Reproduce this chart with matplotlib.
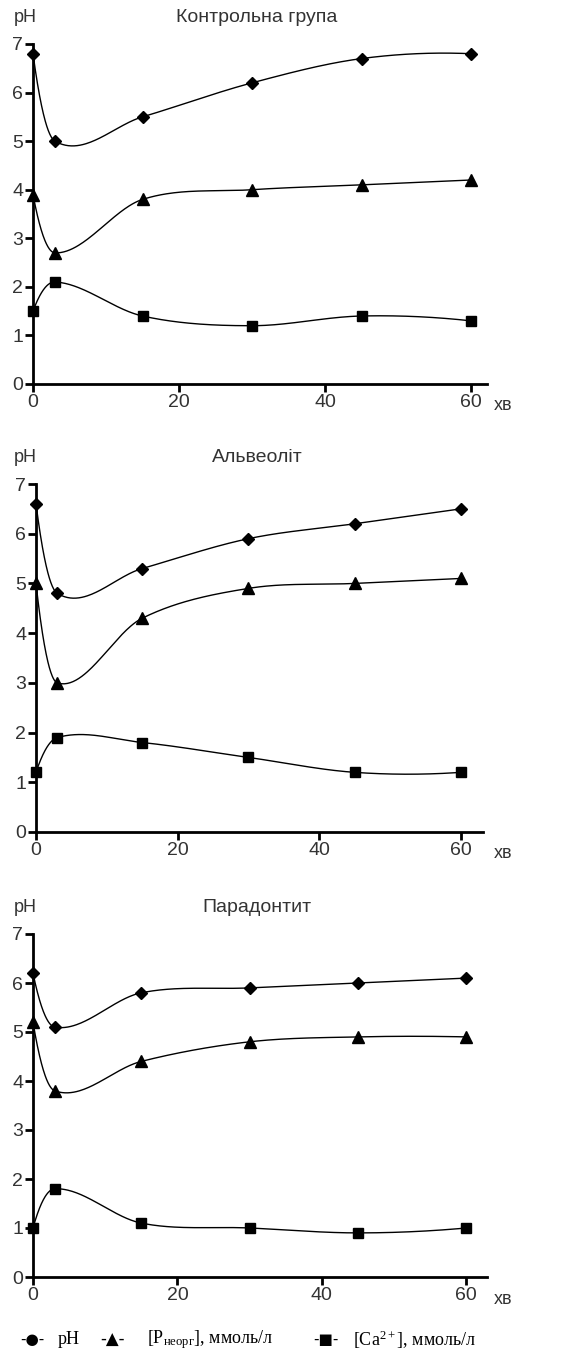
import numpy as np
import matplotlib
matplotlib.use("Agg")
import matplotlib.pyplot as plt

# час, хв
minutes = [0, 3, 15, 30, 45, 60]
xticks = [0, 20, 40, 60]

titles = ["Контрольна група", "Альвеоліт", "Парадонтит"]

ph_vals = [
    [6.8, 5.0, 5.5, 6.2, 6.7, 6.8],
    [6.6, 4.8, 5.3, 5.9, 6.2, 6.5],
    [6.2, 5.1, 5.8, 5.9, 6.0, 6.1],
]
p_vals = [
    [3.9, 2.7, 3.8, 4.0, 4.1, 4.2],
    [5.0, 3.0, 4.3, 4.9, 5.0, 5.1],
    [5.2, 3.8, 4.4, 4.8, 4.9, 4.9],
]
ca_vals = [
    [1.5, 2.1, 1.4, 1.2, 1.4, 1.3],
    [1.2, 1.9, 1.8, 1.5, 1.2, 1.2],
    [1.0, 1.8, 1.1, 1.0, 0.9, 1.0],
]

plt.rcParams['font.family'] = ['Liberation Sans', 'DejaVu Sans']
plt.rcParams['mathtext.fontset'] = 'custom'
plt.rcParams['mathtext.rm'] = 'Liberation Serif'
plt.rcParams['mathtext.it'] = 'Liberation Serif:italic'

W, H = 571, 1355
fig = plt.figure(figsize=(W / 100, H / 100), dpi=100)

# положення панелей у пікселях: лівий край, px на хв, кінець осі x, верх (y=7), низ (y=0)
panels = [
    (33, 7.30, 487, 44, 384),
    (36, 7.08, 483, 484, 832),
    (33, 7.22, 487, 934, 1277),
]


def smooth(x, y, n=60):
    # кубічний ермітів сплайн через точки
    x = np.asarray(x, float)
    y = np.asarray(y, float)
    d = np.diff(y) / np.diff(x)
    m = np.zeros_like(y)
    m[1:-1] = (y[2:] - y[:-2]) / (x[2:] - x[:-2])
    m[0] = 2 * d[0] - m[1]
    m[-1] = 2 * d[-1] - m[-2]
    xs, ys = [], []
    for i in range(len(x) - 1):
        h = x[i + 1] - x[i]
        t = np.linspace(0, 1, n)
        h00 = 2 * t**3 - 3 * t**2 + 1
        h10 = t**3 - 2 * t**2 + t
        h01 = -2 * t**3 + 3 * t**2
        h11 = t**3 - t**2
        xs.append(x[i] + t * h)
        ys.append(h00 * y[i] + h10 * h * m[i] + h01 * y[i + 1] + h11 * h * m[i + 1])
    return np.concatenate(xs), np.concatenate(ys)


tick_col = '#333333'
for k, (left, ppm, xend, top, bottom) in enumerate(panels):
    xmax = (xend - left) / ppm
    ax = fig.add_axes([left / W, 1 - bottom / H, (xend - left) / W, (bottom - top) / H])
    for series, mk, ms in [(ph_vals[k], 'D', 6.5), (p_vals[k], '^', 8), (ca_vals[k], 's', 7)]:
        sx, sy = smooth(minutes, series)
        ax.plot(sx, sy, color='black', lw=1, clip_on=False)
        ax.plot(minutes, series, ls='none', marker=mk, ms=ms, color='black', clip_on=False, zorder=5)
    ax.set_xlim(0, xmax)
    ax.set_ylim(0, 7)
    ax.set_xticks(xticks)
    ax.set_yticks(range(8))
    for s in ['top', 'right']:
        ax.spines[s].set_visible(False)
    for s in ['left', 'bottom']:
        ax.spines[s].set_linewidth(2)
    ax.tick_params(width=2, length=6, labelsize=14, labelcolor=tick_col, pad=1)
    ax.patch.set_alpha(0)
    fig.text(25 / W, 1 - (top - 27) / H, 'pH', fontsize=13, color=tick_col, ha='center', va='center')
    fig.text(257 / W, 1 - (top - 27) / H, titles[k], fontsize=14, color=tick_col, ha='center', va='center')
    fig.text(503 / W, 1 - (bottom + 22) / H, 'хв', fontsize=13, color=tick_col, ha='center', va='center')

# легенда
ly = 1 - 1340 / H
sym_font = ['DejaVu Sans']
fig.text(20 / W, ly, '-●-', fontsize=11, family=sym_font, va='center')
fig.text(58 / W, ly, 'pH', fontsize=13, family=['Liberation Serif'], va='center')
fig.text(100 / W, ly, '-▲-', fontsize=12, family=sym_font, va='center')
fig.text(147 / W, ly, r'[P$_{\mathrm{неорг}}$], ммоль/л', fontsize=13, family=['Liberation Serif'], va='center')
fig.text(313 / W, ly, '-■-', fontsize=11, family=sym_font, va='center')
fig.text(353 / W, ly, r'[Ca$^{\mathrm{2+}}$], ммоль/л', fontsize=13, family=['Liberation Serif'], va='center')

fig.savefig('out.png', dpi=100)
